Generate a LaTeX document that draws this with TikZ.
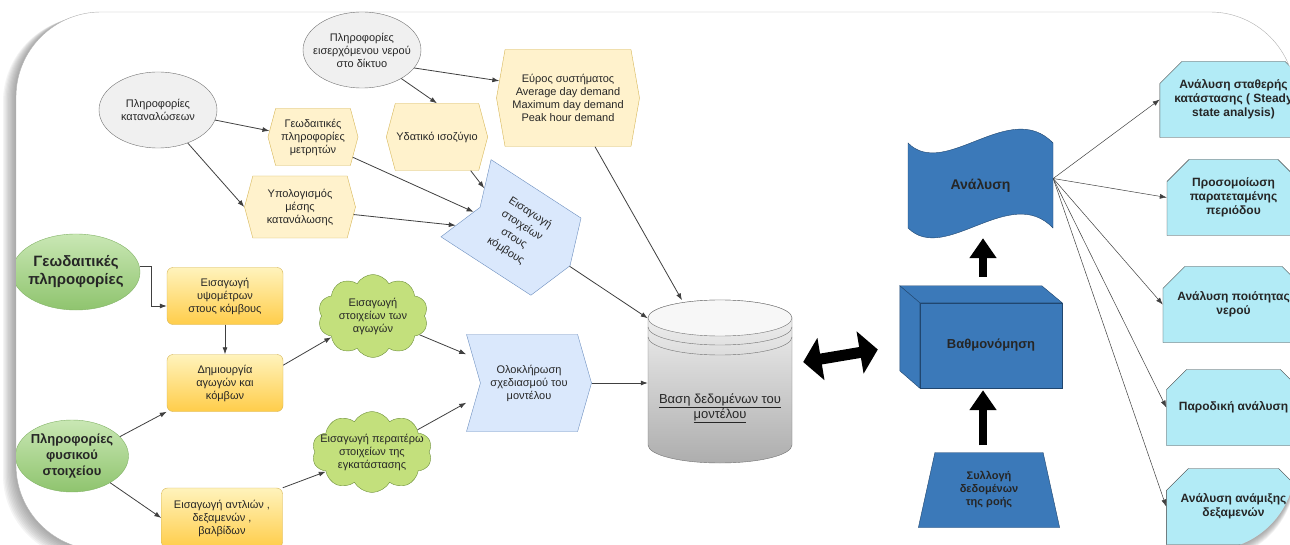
\documentclass[tikz,border=0pt]{standalone}
\usepackage{fontspec}
\setmainfont{Liberation Sans}
\usetikzlibrary{positioning,calc,arrows.meta,shapes.geometric,shapes.symbols,shapes.misc}
\definecolor{hexfill}{HTML}{FFF2CC}
\definecolor{hexline}{HTML}{D6B656}
\definecolor{chevfill}{HTML}{DAE8FC}
\definecolor{chevline}{HTML}{6C8EBF}
\definecolor{greentop}{HTML}{C9E7B4}
\definecolor{greenbot}{HTML}{8FC46E}
\definecolor{greenline}{HTML}{82B366}
\definecolor{goldtop}{HTML}{FFF3BC}
\definecolor{goldbot}{HTML}{FFCD4A}
\definecolor{cloudfill}{HTML}{C3E07C}
\definecolor{cloudline}{HTML}{6D8F3A}
\definecolor{bluefill}{HTML}{3B79B9}
\definecolor{blueline}{HTML}{20466F}
\definecolor{cyanfill}{HTML}{B2EBF6}
\tikzset{
    every node/.style={font=\fontsize{11}{13}\selectfont, align=center, text=black!85},
    grayellipse/.style={ellipse, draw=black!55, fill=black!6, inner sep=0pt},
    yellowhex/.style={signal, signal to=east and west, signal pointer angle=150, draw=hexline, fill=hexfill, inner sep=1pt},
    bluechevron/.style={signal, signal to=east, signal from=west, signal pointer angle=148, draw=chevline, fill=chevfill, inner sep=1pt},
    greencycle/.style={ellipse, draw=greenline, top color=greentop, bottom color=greenbot, font=\fontsize{13}{16}\selectfont\bfseries, inner sep=0pt},
    goldbox/.style={rectangle, rounded corners=6pt, draw=hexline, top color=goldtop, bottom color=goldbot, minimum width=116pt, minimum height=57pt},
    greencloud/.style={cloud, cloud puffs=10, cloud puff arc=120, aspect=1.45, draw=cloudline, fill=cloudfill, inner sep=0pt},
    darkblue/.style={draw=blueline, fill=bluefill, font=\fontsize{13}{15}\selectfont\bfseries},
    cyanbox/.style={chamfered rectangle, chamfered rectangle corners={north west,north east}, chamfered rectangle xsep=11pt, chamfered rectangle ysep=11pt, draw=black!75, fill=cyanfill, minimum width=133pt, minimum height=76pt, font=\fontsize{12}{14}\selectfont\bfseries},
    arrow/.style={-{Latex[length=7pt,width=5pt]}, draw=black!75, line width=0.8pt},
    thinarrow/.style={arrow, line width=0.5pt},
    fatarrow/.style={line width=11pt, {Triangle[length=18pt,width=42pt]}-{Triangle[length=18pt,width=42pt]}},
    fatup/.style={line width=8pt, -{Triangle[length=20pt,width=26pt]}},
}

\begin{document}
\begin{tikzpicture}[x=1pt, y=-1pt]
\useasboundingbox (0,0) rectangle (1290,545);
\fill[white] (0,0) rectangle (1290,545);
% shadow and frame
\foreach \s in {1,...,10}{
  \fill[black!60, opacity=0.07, rounded corners=85pt] (16-1.3*\s,12+0.5*\s) rectangle (1295,550+\s);
}
\fill[white, rounded corners=85pt] (16,12) rectangle (1295,550);
\draw[black!30, rounded corners=85pt] (16,12) rectangle (1295,550);

\begin{scope}
\clip[rounded corners=85pt] (16,12) rectangle (1295,550);

% upper part: consumption and inflow data
\node[grayellipse, inner xsep=-17pt, minimum width=118pt, minimum height=76pt] (inflow) at (362,50) {Πληροφορίες\\εισερχόμενου νερού\\στο δίκτυο};
\node[grayellipse, minimum width=118pt, minimum height=76pt] (cons) at (158,110) {Πληροφορίες\\καταναλώσεων};
\node[yellowhex, minimum width=90pt, minimum height=57pt] (meters) at (313,137) {Γεωδαιτικές\\πληροφορίες\\μετρητών};
\node[yellowhex, minimum width=99pt, minimum height=67pt] (balance) at (437,137) {Υδατικό ισοζύγιο};
\node[yellowhex, signal pointer angle=160, minimum width=143pt, minimum height=97pt] (range) at (568,98) {Εύρος συστήματος\\Average day demand\\Maximum day demand\\Peak hour demand};
\node[yellowhex, minimum width=111pt, minimum height=62pt] (avgcons) at (300,207) {Υπολογισμός\\μέσης\\κατανάλωσης};
\node[bluechevron, rotate=-33, signal pointer angle=140, minimum width=124pt, minimum height=92pt, font=\fontsize{11}{15}\selectfont] (nodesin) at (518,232) {Εισαγωγή\\στοιχείων\\στους\\κόμβους};

% lower part: network elements
\node[greencycle, font=\fontsize{15}{18}\selectfont\bfseries, inner xsep=-10pt, minimum width=128pt, minimum height=76pt] (geo) at (76,272) {Γεωδαιτικές\\πληροφορίες};
\node[greencycle, inner xsep=-12pt, inner ysep=-6pt, minimum width=113pt, minimum height=72pt] (phys) at (72,456) {Πληροφορίες\\φυσικού\\στοιχείου};
\node[goldbox] (elev) at (225,296) {Εισαγωγή\\υψομέτρων\\στους κόμβους};
\node[goldbox] (pipes) at (225,383) {Δημιουργία\\αγωγών και\\κόμβων};
\node[goldbox, minimum width=121pt, minimum height=60pt] (pumps) at (222,518) {Εισαγωγή αντλιών ,\\δεξαμενών ,\\βαλβίδων};
\node[greencloud, inner xsep=-8pt, minimum width=110pt, minimum height=83pt] (pipesin) at (373,316) {Εισαγωγή\\στοιχείων των\\αγωγών};
\node[greencloud, inner xsep=-20pt, minimum width=120pt, minimum height=81pt] (extra) at (372,452) {Εισαγωγή περαιτέρω\\στοιχείων της\\εγκατάστασης};
\node[bluechevron, minimum width=125pt, minimum height=97pt] (finish) at (529,383) {Ολοκλήρωση\\σχεδιασμού του\\μοντέλου};

% database cylinder
\shadedraw[top color=black!4, bottom color=black!32, draw=black!55] (648,318) -- (648,445) arc[start angle=180, end angle=360, x radius=72pt, y radius=18pt] -- (792,318) arc[start angle=0, end angle=180, x radius=72pt, y radius=18pt] -- cycle;
\filldraw[fill=black!3, draw=black!55] (720,318) ellipse[x radius=72pt, y radius=18pt];
\draw[black!55] (648,327) arc[start angle=180, end angle=360, x radius=72pt, y radius=18pt];
\draw[black!55] (648,337) arc[start angle=180, end angle=360, x radius=72pt, y radius=18pt];
\node[minimum width=144pt, minimum height=163pt, inner sep=0pt] (db) at (720,382) {};
\node[font=\fontsize{13}{15}\selectfont] (dblabel) at (720,408) {\underline{Βαση δεδομένων του}\\\underline{μοντέλου}};

% calibration and analysis
\node[darkblue, minimum width=142pt, minimum height=85pt] (calib) at (991,345.5) {Βαθμονόμηση};
\filldraw[darkblue] (calib.north west) -- ++(-20,-17) -- ++(142,0) -- (calib.north east) -- cycle;
\filldraw[darkblue] (calib.north west) -- ++(-20,-17) -- ++(0,85) -- (calib.south west) -- cycle;
\filldraw[darkblue] (908,143) .. controls (945,180) and (1010,98) .. (1053,143) -- (1053,228) .. controls (1010,183) and (945,265) .. (908,228) -- cycle;
\node[minimum width=145pt, minimum height=85pt, font=\fontsize{14}{16}\selectfont\bfseries] (analysis) at (980.5,185.5) {Ανάλυση};
\node[darkblue, trapezium, trapezium left angle=77, trapezium right angle=77, trapezium stretches=true, minimum width=142pt, minimum height=75pt, font=\fontsize{11}{13}\selectfont\bfseries] (collect) at (989,490) {Συλλογή\\δεδομένων\\της ροής};

\foreach \i/\y/\txt in {1/99.5/{Ανάλυση σταθερής\\κατάστασης ( Steady\\state analysis)}, 2/197.5/{Προσομοίωση\\παρατεταμένης\\περιόδου}, 3/304.5/{Ανάλυση ποιότητας\\νερού}, 4/407.5/{Παροδική ανάλυση}, 5/506.5/{Ανάλυση ανάμιξης\\δεξαμενών}}{
  \node[cyanbox] (res\i) at (1233.5,\y) {\txt};
}

% connectors
\draw[arrow] (inflow.-19) -- (range.166);
\draw[arrow] (inflow.-36) -- (balance.north);
\draw[arrow] (cons.-10) -- (meters.172);
\draw[arrow] (cons.-48) -- (avgcons.west);
\draw[arrow] (meters.-27) -- (nodesin);
\draw[arrow] (avgcons.-8) -- (nodesin);
\draw[arrow] (balance.-45) -- (nodesin);
\draw[arrow] ([xshift=27pt]range.south) -- ([xshift=-38pt]db.north);
\draw[arrow] (nodesin) -- ([yshift=-18pt]db.north west);

\draw[arrow] (geo.5) -- ++(12,0) |- ([yshift=-10pt]elev.west);
\draw[arrow] (elev) -- (pipes);
\draw[arrow] (pipes.17) -- (pipesin.207);
\draw[arrow] (phys.22) -- (pipes.south west);
\draw[arrow] (phys.-35) -- (pumps.west);
\draw[arrow] (pumps.north east) -- (extra.203);
\draw[arrow] (pipesin.-22) -- ([yshift=-20pt]finish.north west);
\draw[arrow] (extra.26) -- ([yshift=29pt]finish.south west);
\draw[arrow] (finish.east) -- (finish.east -| db.west);

\draw[fatarrow] ([xshift=11pt,yshift=20pt]db.east) -- ([xshift=-42pt,yshift=-4pt]calib.west);
\coordinate (upA) at ([xshift=-8pt]calib.south);
\coordinate (upB) at ([xshift=-8pt]calib.north);
\draw[fatup, shorten <=7pt, shorten >=2pt] (upA |- collect.north) -- (upA);
\draw[fatup, shorten <=26pt, shorten >=10pt] (upB) -- (upB |- analysis.south);

\foreach \i in {1,...,5}
  \draw[thinarrow] ([yshift=7pt]analysis.east) -- (res\i.west);
\end{scope}
\end{tikzpicture}
\end{document}
